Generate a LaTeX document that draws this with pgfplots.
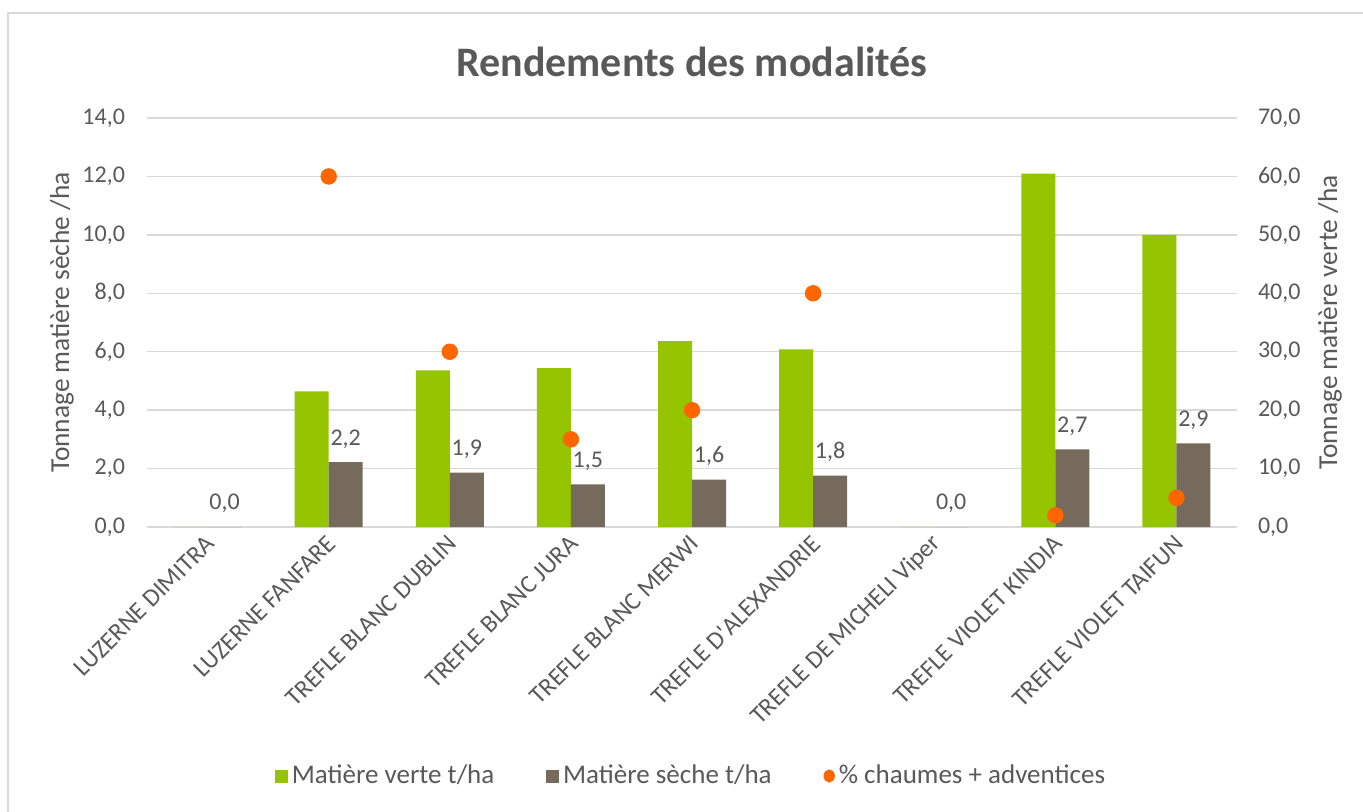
\documentclass[border=0pt]{standalone}
\usepackage{fontspec}
\setmainfont{Carlito}
\usepackage{pgfplots}
\pgfplotsset{compat=1.18}
\definecolor{cgreen}{RGB}{149,197,0}
\definecolor{cbrown}{RGB}{117,106,91}
\definecolor{corange}{RGB}{255,102,0}
\definecolor{ctext}{RGB}{89,89,89}
\definecolor{cgrid}{RGB}{217,217,217}
\definecolor{cborder}{RGB}{217,217,217}
\pgfplotsset{
  common/.style={
    scale only axis, width=545pt, height=204.5pt,
    at={(73.5pt,142pt)}, anchor=south west,
    xmin=-0.5, xmax=8.5, xtick={0,...,8},
    ymin=0,
    axis line style={draw=none},
    major tick length=0pt,
    tick label style={font=\fontsize{12}{14}\selectfont, text=ctext},
    /pgf/number format/fixed,
    /pgf/number format/fixed zerofill,
    /pgf/number format/precision=1,
    /pgf/number format/use comma,
    /pgf/number format/assume math mode=true,
  }
}
\begin{document}
\begin{tikzpicture}
\useasboundingbox (0,0) rectangle (681.5pt,405.5pt);
\fill[white] (0,0) rectangle (681.5pt,405.5pt);
\draw[cborder, line width=0.8pt] (4pt,-2pt) -- (4pt,399pt) -- (684pt,399pt);

% axis 1 (right scale): grid + matiere verte
\begin{axis}[common,
  ymax=70, ytick={0,10,...,70},
  ymajorgrids, grid style={cgrid, line width=0.7pt},
  xticklabels={},
  yticklabel pos=right,
  yticklabel style={xshift=7pt},
  ylabel={Tonnage matière verte /ha},
  every axis y label/.style={at={(axis description cs:1,0.5)}, xshift=46.5pt, rotate=90, anchor=center, font=\fontsize{13.7}{16}\selectfont, text=ctext},
]
\addplot[ybar, bar width=17pt, bar shift=-8.5pt, fill=cgreen, draw=none]
  coordinates {(0,0) (1,23.2) (2,26.8) (3,27.2) (4,31.8) (5,30.4) (6,0) (7,60.5) (8,50.0)};
\end{axis}

% axis 2 (left scale): matiere seche
\begin{axis}[common,
  ymax=14, ytick={0,2,...,14},
  xticklabels={LUZERNE DIMITRA, LUZERNE FANFARE, TREFLE BLANC DUBLIN, TREFLE BLANC JURA, TREFLE BLANC MERWI, TREFLE D\textquotesingle ALEXANDRIE, TREFLE DE MICHELI Viper, TREFLE VIOLET KINDIA, TREFLE VIOLET TAIFUN},
  xticklabel style={rotate=45, anchor=east, yshift=-5.5pt, font=\fontsize{12.5}{14}\selectfont},
  yticklabel style={xshift=-7.5pt},
  ylabel={Tonnage matière sèche /ha},
  every axis y label/.style={at={(axis description cs:0,0.5)}, xshift=-42.5pt, rotate=90, anchor=center, font=\fontsize{13.7}{16}\selectfont, text=ctext},
  title={Rendements des modalités},
  title style={at={(axis description cs:0.5,1)}, anchor=center, yshift=22pt, font=\bfseries\fontsize{21}{25}\selectfont, text=ctext},
]
\addplot[ybar, bar width=17pt, bar shift=8.5pt, fill=cbrown, draw=none,
  nodes near coords,
  every node near coord/.append style={font=\fontsize{12}{14}\selectfont, text=ctext, anchor=south, xshift=8.5pt, yshift=3.5pt}]
  coordinates {(0,0) (1,2.22) (2,1.86) (3,1.46) (4,1.62) (5,1.76) (6,0) (7,2.66) (8,2.86)};
\end{axis}

% axis 3 (right scale): % chaumes + adventices, legend
\begin{axis}[common,
  ymax=70, hide axis,
  legend columns=3,
  legend style={draw=none, fill=none, at={(axis description cs:0.5,0)}, anchor=center, yshift=-124.5pt,
    font=\fontsize{13.5}{16}\selectfont, text=ctext,
    nodes={inner xsep=2pt},
    /tikz/every even column/.append style={column sep=24pt}},
]
\addlegendimage{legend image code/.code={\fill[cgreen] (0pt,-3pt) rectangle (6pt,3pt);}}
\addlegendentry{Matière verte t/ha}
\addlegendimage{legend image code/.code={\fill[cbrown] (0pt,-3pt) rectangle (6pt,3pt);}}
\addlegendentry{Matière sèche t/ha}
\addplot[only marks, mark=*, mark size=3.9pt, color=corange,
  legend image code/.code={\fill[corange] (3pt,0pt) ellipse (2.6pt and 3.1pt);}]
  coordinates {(1,60) (2,30) (3,15) (4,20) (5,40) (7,2) (8,5)};
\addlegendentry{\% chaumes + adventices}
\end{axis}
\end{tikzpicture}
\end{document}
